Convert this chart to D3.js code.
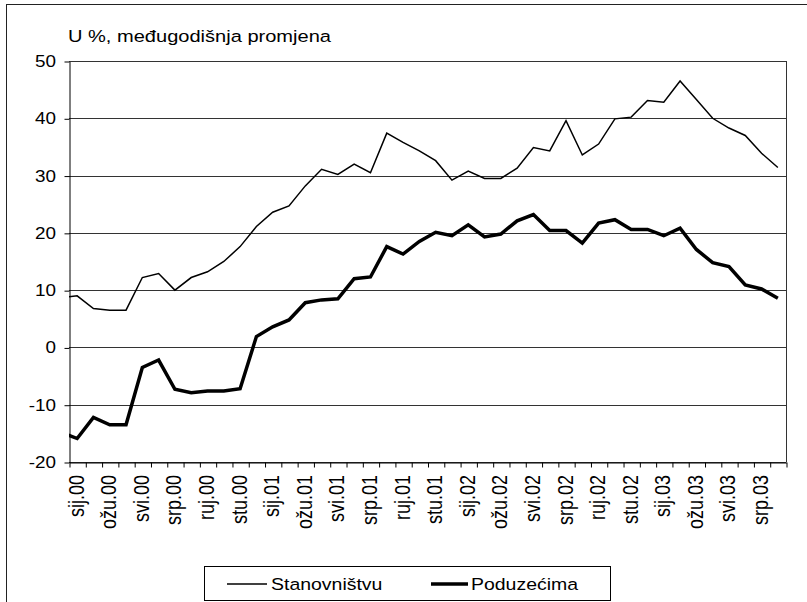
<!DOCTYPE html>
<html>
<head>
<meta charset="utf-8">
<script src="https://cdn.jsdelivr.net/npm/d3@7"></script>
<style>
  body { margin: 0; background: #fff; }
  text { font-family: Arial, "Liberation Sans", sans-serif; fill: #000; }
</style>
</head>
<body>
<script>
// month labels (every month, Jan 2000 - Aug 2003)
const monthNames = ['sij', 'velj', 'ožu', 'tra', 'svi', 'lip', 'srp', 'kol', 'ruj', 'lis', 'stu', 'pro'];
const years = ['00', '01', '02', '03'];
const months = [];
years.forEach(y => monthNames.forEach(m => months.push(m + '.' + y)));
months.length = 44;

// value of Dec 1999 (only a stub is visible at the left edge)
const stanovnistvuPrev = 8.7;
const poduzecimaPrev = -14.8;

const stanovnistvu = [
  9.0, 6.8, 6.5, 6.5, 12.2, 12.9, 10.0, 12.2, 13.2, 15.0, 17.6, 21.1,
  23.6, 24.7, 28.2, 31.1, 30.2, 32.0, 30.5, 37.4, 35.8, 34.3, 32.6, 29.2,
  30.8, 29.5, 29.5, 31.3, 34.9, 34.3, 39.6, 33.6, 35.5, 39.9, 40.2, 43.1,
  42.8, 46.5, 43.3, 40.0, 38.3, 37.0, 33.9, 31.4
];
const poduzecima = [
  -15.9, -12.2, -13.5, -13.5, -3.5, -2.2, -7.3, -7.9, -7.6, -7.6, -7.2, 1.9,
  3.6, 4.8, 7.8, 8.3, 8.5, 12.0, 12.3, 17.6, 16.3, 18.5, 20.1, 19.5,
  21.4, 19.3, 19.8, 22.1, 23.2, 20.4, 20.4, 18.2, 21.7, 22.3, 20.6, 20.6,
  19.5, 20.8, 17.1, 14.8, 14.1, 10.9, 10.2, 8.6
];
const yTicks = [-20, -10, 0, 10, 20, 30, 40, 50];
const seriesNames = ['Stanovništvu', 'Poduzećima'];

const W = 807, H = 602;
const plotLeft = 69, plotRight = 786, plotTop = 61, plotBottom = 462;
const stretch = 1.18;

const svg = d3.select('body').append('svg')
    .attr('width', W)
    .attr('height', H);

// outer chart border
svg.append('rect')
    .attr('x', 6.5).attr('y', 4.5)
    .attr('width', W + 10).attr('height', H + 10)
    .attr('fill', 'none')
    .attr('stroke', '#222');

const x = d3.scaleLinear().domain([0, months.length]).range([plotLeft, plotRight]);
const y = d3.scaleLinear().domain([-20, 50]).range([plotBottom, plotTop]);

// gridlines
svg.append('g')
    .selectAll('line')
    .data(yTicks)
    .enter().append('line')
    .attr('x1', plotLeft).attr('x2', plotRight)
    .attr('y1', d => Math.round(y(d)) + 0.5)
    .attr('y2', d => Math.round(y(d)) + 0.5)
    .attr('stroke', '#333')
    .attr('stroke-width', 1);

// right border of plot
svg.append('line')
    .attr('x1', plotRight + 0.5).attr('x2', plotRight + 0.5)
    .attr('y1', plotTop).attr('y2', plotBottom)
    .attr('stroke', '#333');

// y axis
const yAxis = d3.axisLeft(y).tickValues(yTicks).tickSize(5).tickSizeOuter(0).tickFormat('');
const yg = svg.append('g')
    .attr('transform', `translate(${plotLeft + 0.5},0.5)`)
    .call(yAxis);
yg.select('.domain').attr('stroke', '#000');

yTicks.forEach(t => {
    svg.append('g')
        .attr('transform', `translate(56,${y(t) + 6}) scale(${stretch},1)`)
        .append('text')
        .attr('text-anchor', 'end')
        .style('font-size', '16px')
        .text(t);
});

// x axis: ticks between months
const xAxis = d3.axisBottom(x).tickValues(d3.range(months.length + 1)).tickSize(5).tickSizeOuter(0).tickFormat('');
const xg = svg.append('g')
    .attr('transform', `translate(0.5,${plotBottom + 0.5})`)
    .call(xAxis);
xg.select('.domain').attr('stroke', '#000');

// labels every second month
months.forEach((m, i) => {
    if (i % 2 !== 0) return;
    svg.append('text')
        .attr('transform', `translate(${x(i + 0.5) + 6.5},475) scale(${stretch},1) rotate(-90)`)
        .attr('text-anchor', 'end')
        .style('font-size', '18px')
        .text(m);
});

// title
svg.append('g')
    .attr('transform', `translate(68,42) scale(${stretch},1)`)
    .append('text')
    .style('font-size', '17px')
    .text('U %, međugodišnja promjena');

// lines
svg.append('clipPath').attr('id', 'plotClip')
    .append('rect')
    .attr('x', plotLeft).attr('y', plotTop - 10)
    .attr('width', plotRight - plotLeft).attr('height', plotBottom - plotTop + 20);

const line = d3.line()
    .x(d => x(d[0] + 0.5))
    .y(d => y(d[1]));

const plot = svg.append('g').attr('clip-path', 'url(#plotClip)');

const s1 = [[-1, stanovnistvuPrev]].concat(stanovnistvu.map((v, i) => [i, v]));
const s2 = [[-1, poduzecimaPrev]].concat(poduzecima.map((v, i) => [i, v]));

plot.append('path')
    .datum(s1)
    .attr('d', line)
    .attr('fill', 'none')
    .attr('stroke', '#000')
    .attr('stroke-width', 1.5)
    .attr('stroke-linejoin', 'miter');

plot.append('path')
    .datum(s2)
    .attr('d', line)
    .attr('fill', 'none')
    .attr('stroke', '#000')
    .attr('stroke-width', 3.5)
    .attr('stroke-linejoin', 'miter');

// legend
const legend = svg.append('g');
legend.append('rect')
    .attr('x', 204.5).attr('y', 566.5)
    .attr('width', 406).attr('height', 34)
    .attr('fill', '#fff')
    .attr('stroke', '#000');

const legendItems = [
    { name: seriesNames[0], x1: 227, x2: 267, tx: 271, w: 1.5 },
    { name: seriesNames[1], x1: 431, x2: 468, tx: 471, w: 3.5 }
];
legendItems.forEach(it => {
    legend.append('line')
        .attr('x1', it.x1).attr('x2', it.x2)
        .attr('y1', 584).attr('y2', 584)
        .attr('stroke', '#000')
        .attr('stroke-width', it.w);
    legend.append('g')
        .attr('transform', `translate(${it.tx},590) scale(${stretch},1)`)
        .append('text')
        .style('font-size', '16.5px')
        .text(it.name);
});
</script>
</body>
</html>
